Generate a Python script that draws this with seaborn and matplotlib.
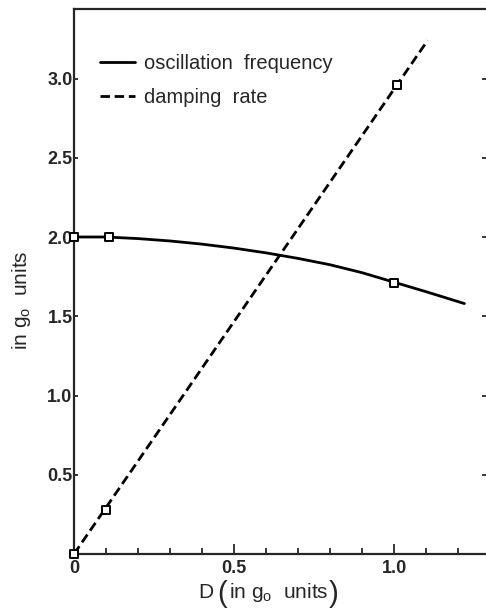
import numpy as np
import pandas as pd
import seaborn as sns
import matplotlib.pyplot as plt

# values
osc_D = [0.0, 0.1, 0.2, 0.3, 0.4, 0.5, 0.6, 0.7, 0.8, 0.9, 1.0, 1.1, 1.22]
osc_val = [2.00, 2.00, 1.99, 1.975, 1.955, 1.93, 1.90, 1.865, 1.825, 1.775, 1.715, 1.655, 1.58]
osc_pts_D = [0.0, 0.11, 1.0]
osc_pts_val = [2.0, 2.0, 1.71]

damp_D = [0.0, 1.105]
damp_val = [0.0, 3.24]
damp_pts_D = [0.0, 0.1, 1.01]
damp_pts_val = [0.0, 0.28, 2.96]

x_ticks = [0.0, 0.5, 1.0]
x_tick_labels = ["0", "0.5", "1.0"]
y_ticks = [0.5, 1.0, 1.5, 2.0, 2.5, 3.0]
y_tick_labels = ["0.5", "1.0", "1.5", "2.0", "2.5", "3.0"]

sns.set_style("ticks")
plt.rcParams['font.family'] = ['Liberation Sans', 'DejaVu Sans']
plt.rcParams['mathtext.fontset'] = 'custom'
plt.rcParams['mathtext.rm'] = 'Liberation Sans'

fig = plt.figure(figsize=(4.86, 6.16), dpi=100)
ax = fig.add_axes([74/486, 62/616, 412/486, 545/616])

sns.lineplot(x=osc_D, y=osc_val, ax=ax, color='black', linewidth=2.0,
             label='oscillation  frequency')
sns.lineplot(x=damp_D, y=damp_val, ax=ax, color='black', linewidth=2.0,
             linestyle=(0, (3.4, 1.7)), label='damping  rate')
for px, py in [(osc_pts_D, osc_pts_val), (damp_pts_D, damp_pts_val)]:
    sns.scatterplot(x=px, y=py, ax=ax, marker='s', s=36, color='white',
                    edgecolor='black', linewidth=1.4, zorder=4, legend=False,
                    clip_on=False)

ax.set_xlim(0, 412/320)
ax.set_ylim(0, 545/158.5)

ax.set_xticks(x_ticks)
ax.set_xticklabels(x_tick_labels)
ax.set_xticks(np.arange(0.1, 1.3, 0.1), minor=True)
ax.set_yticks(y_ticks)
ax.set_yticklabels(y_tick_labels)

for lab in ax.get_xticklabels() + ax.get_yticklabels():
    lab.set_fontweight('bold')
    lab.set_fontsize(13)

ax.tick_params(axis='x', which='major', direction='in', length=7, width=1.3, pad=4)
ax.tick_params(axis='x', which='minor', direction='in', length=4.5, width=1.3)
ax.tick_params(axis='y', which='major', direction='in', length=3, width=1.3, pad=1,
               right=True)

for side in ['left', 'bottom', 'top']:
    ax.spines[side].set_linewidth(1.6)
ax.spines['right'].set_visible(False)

# x label pieces, with tall brackets as in the original
xl_y = -0.08
par_y = -0.088
ax.text(0.301, xl_y, 'D', transform=ax.transAxes, fontsize=15, ha='left', va='baseline')
ax.text(0.347, par_y, '(', transform=ax.transAxes, fontsize=21, ha='left', va='baseline')
ax.text(0.377, xl_y, r'in g$_\mathregular{o}$  units', transform=ax.transAxes,
        fontsize=15, ha='left', va='baseline')
ax.text(0.618, par_y, ')', transform=ax.transAxes, fontsize=21, ha='left', va='baseline')

ax.set_ylabel(r'in g$_\mathregular{o}$  units', fontsize=15)
ax.yaxis.set_label_coords(-0.1, 0.465)

leg = ax.legend(loc='upper left', bbox_to_anchor=(0.018, 0.95), frameon=False,
                fontsize=14.5, handlelength=1.75, handletextpad=0.45, labelspacing=0.75)

plt.savefig('out.png', dpi=100)
